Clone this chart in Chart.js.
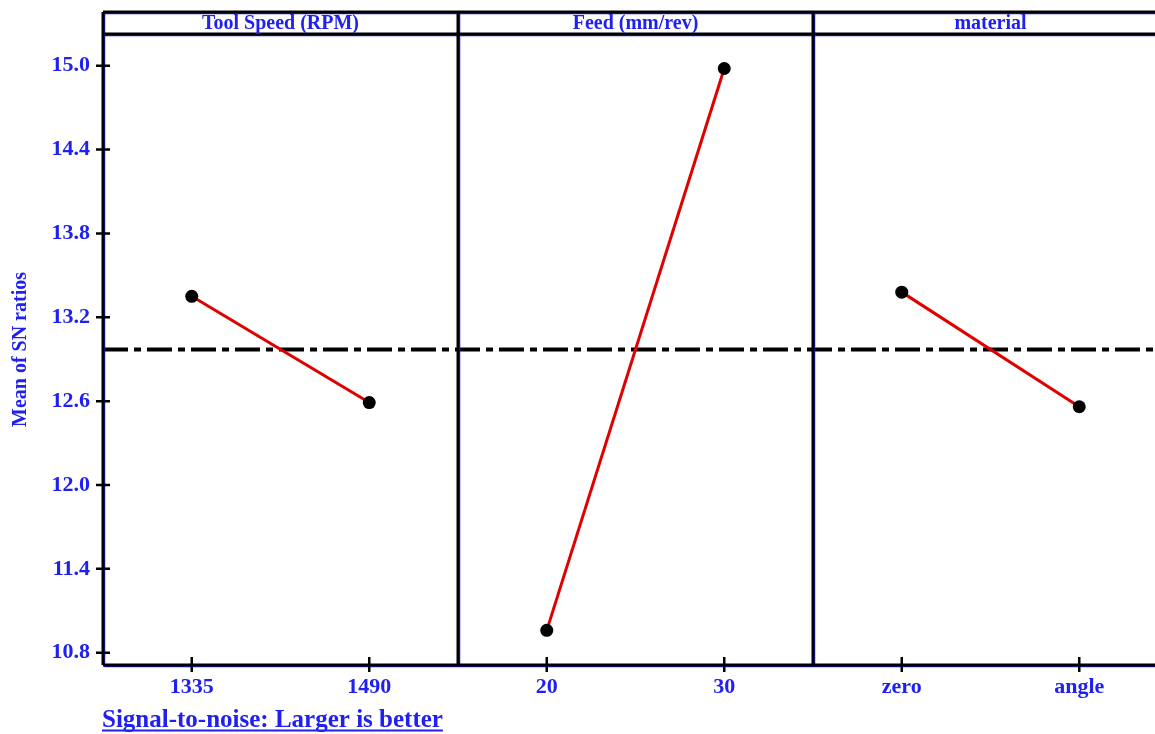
<!DOCTYPE html>
<html>
<head>
<meta charset="utf-8">
<title>Main Effects Plot for SN ratios</title>
<script src="https://cdn.jsdelivr.net/npm/chart.js@4.4.1/dist/chart.umd.min.js"></script>
<style>
    html, body { margin: 0; padding: 0; background: #fff; overflow: hidden; }
    #wrap { position: relative; width: 1190px; height: 734px; }
</style>
</head>
<body>
<div id="wrap"><canvas id="snChart" width="1190" height="734"></canvas></div>
<script>
// Factor panels and their levels
const factorNames = ['Tool Speed (RPM)', 'Feed (mm/rev)', 'material'];
const levelLabels = ['1335', '1490', '20', '30', 'zero', 'angle'];

// Mean SN ratio for each level
const speedSN = [13.35, 12.59];
const feedSN = [10.96, 14.98];
const materialSN = [13.38, 12.56];
const meanSN = 12.97;

// Y axis ticks
const yTicks = [10.8, 11.4, 12.0, 12.6, 13.2, 13.8, 14.4, 15.0];

const BLUE = '#2020f0';
const SERIF = '"Liberation Serif", "Times New Roman", serif';

// each panel is two x units wide, levels sit at the quarter points
function levelPoints(values, panel) {
    return values.map((v, i) => ({ x: panel * 2 + i, y: v }));
}

function effectDataset(values, panel) {
    return {
        data: levelPoints(values, panel),
        borderColor: '#e00000',
        borderWidth: 3,
        pointRadius: 6.5,
        pointBackgroundColor: '#000',
        pointBorderColor: '#000',
        pointBorderWidth: 0,
        order: 1
    };
}

/**
 * Frame, strip headers, tick marks and footnote
 */
const panelFrame = {
    id: 'panelFrame',
    afterDraw(chart) {
        const ctx = chart.ctx;
        const area = chart.chartArea;
        const xs = chart.scales.x;
        const ys = chart.scales.y;
        const frameTop = 12;
        const dividers = [1.5, 3.5].map(v => xs.getPixelForValue(v));

        ctx.save();

        function frameLines(color, width, off) {
            ctx.strokeStyle = color;
            ctx.lineWidth = width;
            ctx.beginPath();
            // outer box
            ctx.moveTo(area.left + off, frameTop + off);
            ctx.lineTo(area.right + off, frameTop + off);
            ctx.moveTo(area.left + off, frameTop + off);
            ctx.lineTo(area.left + off, area.bottom + off);
            ctx.moveTo(area.left + off, area.bottom + off);
            ctx.lineTo(area.right + off, area.bottom + off);
            ctx.moveTo(area.right + off, frameTop + off);
            ctx.lineTo(area.right + off, area.bottom + off);
            // header line
            ctx.moveTo(area.left + off, area.top + off);
            ctx.lineTo(area.right + off, area.top + off);
            // panel dividers
            dividers.forEach(x => {
                ctx.moveTo(x + off, frameTop + off);
                ctx.lineTo(x + off, area.bottom + off);
            });
            ctx.stroke();
        }
        frameLines(BLUE, 1.5, 1.5);
        frameLines('#000', 3, 0);

        // tick marks cross the axis lines
        ctx.strokeStyle = '#000';
        ctx.lineWidth = 2.5;
        ctx.beginPath();
        yTicks.forEach(v => {
            const y = ys.getPixelForValue(v);
            ctx.moveTo(area.left - 7, y);
            ctx.lineTo(area.left + 7, y);
        });
        levelLabels.forEach((l, i) => {
            const x = xs.getPixelForValue(i);
            ctx.moveTo(x, area.bottom - 8);
            ctx.lineTo(x, area.bottom + 7);
        });
        ctx.stroke();

        // strip titles
        ctx.fillStyle = BLUE;
        ctx.font = 'bold 20px ' + SERIF;
        ctx.textAlign = 'center';
        ctx.textBaseline = 'middle';
        factorNames.forEach((name, i) => {
            const cx = xs.getPixelForValue(i * 2 + 0.5);
            ctx.fillText(name, cx, (frameTop + area.top) / 2 + 1);
        });

        // footnote
        ctx.font = 'bold 25px ' + SERIF;
        ctx.textAlign = 'left';
        ctx.textBaseline = 'alphabetic';
        const note = 'Signal-to-noise: Larger is better';
        const w = ctx.measureText(note).width;
        ctx.fillText(note, 102, 727);
        ctx.fillRect(102, 729.5, w, 2);

        ctx.restore();
    }
};

function initSNChart() {
    const ctx = document.getElementById('snChart');
    if (!ctx) return;

    new Chart(ctx, {
        type: 'line',
        data: {
            datasets: [
                effectDataset(speedSN, 0),
                effectDataset(feedSN, 1),
                effectDataset(materialSN, 2),
                {
                    data: [{ x: -0.5, y: meanSN }, { x: 5.5, y: meanSN }],
                    borderColor: '#000',
                    borderWidth: 4,
                    borderDash: [25, 6, 7, 6],
                    pointRadius: 0,
                    order: 2
                }
            ]
        },
        plugins: [panelFrame],
        options: {
            responsive: false,
            animation: false,
            layout: {
                padding: { top: 34, right: 22, left: 0, bottom: 0 }
            },
            plugins: {
                legend: { display: false },
                tooltip: { enabled: false }
            },
            scales: {
                x: {
                    type: 'linear',
                    min: -0.5,
                    max: 5.5,
                    afterFit: scale => { scale.height = 69; },
                    afterBuildTicks: scale => {
                        scale.ticks = levelLabels.map((l, i) => ({ value: i }));
                    },
                    grid: { display: false, drawTicks: false },
                    border: { display: false },
                    ticks: {
                        padding: 9,
                        color: BLUE,
                        font: { family: SERIF, size: 22, weight: 'bold' },
                        callback: value => levelLabels[value]
                    }
                },
                y: {
                    min: 10.712,
                    max: 15.227,
                    afterFit: scale => { scale.width = 103; },
                    afterBuildTicks: scale => {
                        scale.ticks = yTicks.map(v => ({ value: v }));
                    },
                    grid: { display: false, drawTicks: false },
                    border: { display: false },
                    ticks: {
                        padding: 13,
                        color: BLUE,
                        font: { family: SERIF, size: 22, weight: 'bold' },
                        callback: value => value.toFixed(1)
                    },
                    title: {
                        display: true,
                        text: 'Mean of SN ratios',
                        color: BLUE,
                        padding: { top: 9, bottom: 0 },
                        font: { family: SERIF, size: 20, weight: 'bold' }
                    }
                }
            }
        }
    });
}

document.addEventListener('DOMContentLoaded', initSNChart);
</script>
</body>
</html>
